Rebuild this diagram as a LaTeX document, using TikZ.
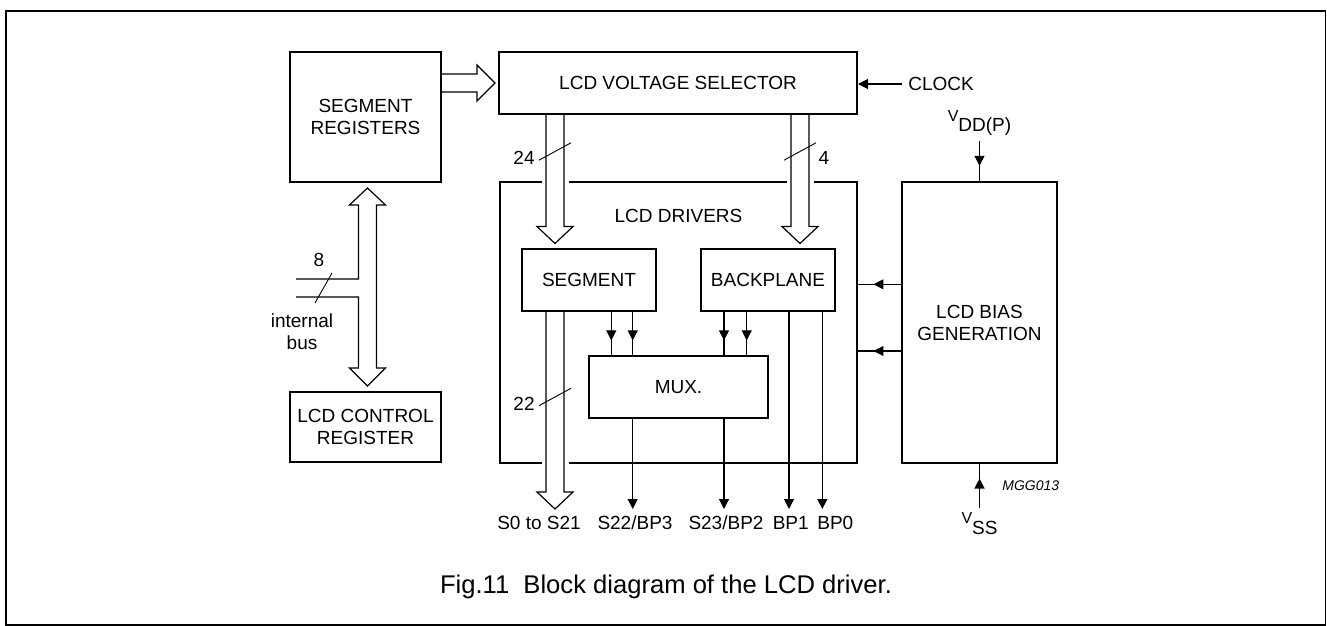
\documentclass[tikz,border=0pt]{standalone}
\usepackage{fontspec}
\setmainfont{Liberation Sans}
\usetikzlibrary{positioning,calc,arrows.meta,decorations.markings}
\newcommand{\busdown}[2]% start, tip (same x)
{\draw[bus] ($(#1)+(-9,0)$) -- ($(#2)+(-9,-17)$) -- ($(#2)+(-18,-17)$) -- (#2)
  -- ($(#2)+(18,-17)$) -- ($(#2)+(9,-17)$) -- ($(#1)+(9,0)$);
}
\newcommand{\busright}[2]% start, tip (same y)
{\draw[bus] ($(#1)+(0,-9)$) -- ($(#2)+(-18,-9)$) -- ($(#2)+(-18,-18)$) -- (#2)
  -- ($(#2)+(-18,18)$) -- ($(#2)+(-18,9)$) -- ($(#1)+(0,9)$);
}
\newcommand{\busgap}[1]% where a bus cuts a border
{\fill[white] ($(#1)+(-13.5,-3)$) rectangle ($(#1)+(13.5,3)$);
}

\begin{document}
\begin{tikzpicture}[x=0.5pt,y=-0.5pt,
  every node/.style={font=\fontsize{9.5}{11}\selectfont},
  blk/.style={draw, line width=1pt, inner sep=0pt, align=center},
  bus/.style={line width=0.6pt, line join=miter},
  slash/.style={line width=0.45pt},
  wire/.style={line width=0.55pt},
  sig/.style={wire, -{Triangle[length=5pt,width=5pt]}},
  midarrow/.style={wire, postaction={decorate}, decoration={markings,
    mark=at position #1 with {\arrow{Triangle[length=5pt,width=5pt]}}}}]
  \useasboundingbox (0,0) rectangle (1327,626);
  \draw[line width=0.85pt] (6,11) rectangle (1325.5,625);

  % blocks
  \node[blk, minimum width=75.5pt, minimum height=65pt] (segreg) at (365.5,117) {SEGMENT\\REGISTERS};
  \node[blk, minimum width=179pt, minimum height=31pt] (lcdvs) at (678,83) {LCD VOLTAGE SELECTOR};
  \node[blk, minimum width=178.5pt, minimum height=140.5pt] (drivers) at (678.5,322.5) {};
  \node (drvlbl) at ($(drivers.north)+(0,35)$) {LCD DRIVERS};
  \node[blk, minimum width=67pt, minimum height=31pt] (segment) at (589,280) {SEGMENT};
  \node[blk, minimum width=67pt, minimum height=31pt] (backplane) at (768,280) {BACKPLANE};
  \node[blk, minimum width=89.5pt, minimum height=31pt] (mux) at (678.5,387) {MUX.};
  \node[blk, minimum width=77.5pt, minimum height=140.5pt] (bias) at (979.5,322.5) {LCD BIAS\\GENERATION};
  \node[blk, minimum width=75.5pt, minimum height=35pt] (ctrlreg) at (365.5,427) {LCD CONTROL\\REGISTER};

  % wide buses
  \coordinate (hbs) at (segreg.east |- lcdvs.west);
  \coordinate (hbt) at ($(lcdvs.west)+(-3,0)$);
  \busright{hbs}{hbt}

  \coordinate (b24) at ($(segment.north west)+(34,0)$);
  \coordinate (b24s) at (lcdvs.south -| b24);
  \coordinate (b24t) at ($(b24)+(0,-4.5)$);
  \coordinate (b24g) at (drivers.north -| b24);
  \busgap{b24g}
  \busdown{b24s}{b24t}
  \draw[slash] ($(b24s)+(-16,45.2)$) -- ($(b24s)+(16,27.8)$);
  \node (n24) at ($(b24s)+(-31,43)$) {24};

  \coordinate (b4) at ($(backplane.north west)+(100,0)$);
  \coordinate (b4s) at (lcdvs.south -| b4);
  \coordinate (b4t) at ($(b4)+(0,-4.5)$);
  \coordinate (b4g) at (drivers.north -| b4);
  \busgap{b4g}
  \busdown{b4s}{b4t}
  \draw[slash] ($(b4s)+(-16,45.2)$) -- ($(b4s)+(16,27.8)$);
  \node (n4) at ($(b4s)+(24,43)$) {4};

  \coordinate (outy) at ($(mux.south)+(0,90)$);
  \coordinate (b22s) at (segment.south -| b24);
  \coordinate (b22t) at (outy -| b24);
  \coordinate (b22g) at (drivers.south -| b24);
  \busgap{b22g}
  \busdown{b22s}{b22t}
  \draw[slash] ($(b22s)+(-16,93.7)$) -- ($(b22s)+(16,76.3)$);
  \node (n22) at ($(b22s)+(-31,92)$) {22};

  % internal bus
  \coordinate (ibt) at ($(segreg.south)+(2,5)$);
  \coordinate (ibb) at ($(ctrlreg.north)+(2,-5)$);
  \coordinate (ibus) at ($(ibt)+(-71.5,100)$);
  \draw[bus] ($(ibus)+(0,9)$) -- ($(ibus)+(62.5,9)$) -- ($(ibb)+(-9,-18)$)
    -- ($(ibb)+(-18,-18)$) -- (ibb) -- ($(ibb)+(18,-18)$) -- ($(ibb)+(9,-18)$)
    -- ($(ibt)+(9,17)$) -- ($(ibt)+(18,17)$) -- (ibt) -- ($(ibt)+(-18,17)$)
    -- ($(ibt)+(-9,17)$) -- ($(ibus)+(62.5,-9)$) -- ($(ibus)+(0,-9)$);
  \draw[slash] ($(ibus)+(19,15)$) -- ($(ibus)+(36,-15)$);
  \node (n8) at ($(ibus)+(23,-28)$) {8};
  \node[align=center] (iblbl) at ($(ibus)+(6,43.5)$) {internal\\bus};

  % clock and supplies
  \node[anchor=west, inner xsep=3pt, inner ysep=0pt] (clock) at ($(lcdvs.east)+(44,1)$) {CLOCK};
  \draw[sig] (clock.west) -- (clock.west -| lcdvs.east);
  \coordinate (vddin) at ($(bias.north)+(0,-40)$);
  \node[inner sep=0pt, above=2.5pt of vddin] (vdd) {{\fontsize{8}{8}\selectfont V}\raisebox{-5.3pt}{DD(P)}};
  \draw[midarrow=0.62] (vddin) -- (bias.north);
  \coordinate (vssin) at ($(bias.south)+(0,44)$);
  \node[inner sep=0pt, below=2pt of vssin] (vss) {{\fontsize{8}{8}\selectfont V}\raisebox{-5.3pt}{SS}};
  \draw[midarrow=0.67] (vssin) -- (bias.south);
  \node[anchor=west, inner sep=0pt, font=\fontsize{7}{8}\selectfont\itshape] (code) at ($(bias.south)+(22.5,21.5)$) {MGG013};

  \coordinate (bi1) at ($(bias.west)+(0,-38.2)$);
  \coordinate (bi2) at ($(bias.west)+(0,28.5)$);
  \draw[midarrow=0.64] (bi1) -- (bi1 -| drivers.east);
  \draw[midarrow=0.64] (bi2) -- (bi2 -| drivers.east);

  % inner signals
  \coordinate (sa) at ($(mux.north west)+(23.3,0)$);
  \coordinate (sb) at ($(mux.north west)+(44.7,0)$);
  \coordinate (sc) at ($(mux.north east)+(-45,0)$);
  \coordinate (sd) at ($(mux.north east)+(-22.3,0)$);
  \coordinate (se) at ($(backplane.south west)+(89,0)$);
  \coordinate (sf) at ($(backplane.south west)+(122.3,0)$);
  \foreach \s in {sa,sb}
    \draw[midarrow=0.66] (segment.south -| \s) -- (\s);
  \foreach \s in {sc,sd}
    \draw[midarrow=0.66] (backplane.south -| \s) -- (\s);
  \draw[sig] (mux.south -| sb) -- (sb |- outy);
  \draw[sig] (mux.south -| sc) -- (sc |- outy);
  \draw[sig] (se) -- (se |- outy);
  \draw[sig] (sf) -- (sf |- outy);

  % pin names
  \node (p0) at ($(outy -| b24)+(-16,14)$) {S0 to S21};
  \node (p1) at ($(outy -| sb)+(2.3,14)$) {S22/BP3};
  \node (p2) at ($(outy -| sc)+(2,14)$) {S23/BP2};
  \node (p3) at ($(outy -| se)+(1.7,14)$) {BP1};
  \node (p4) at ($(outy -| sf)+(13,14)$) {BP0};

  \node[font=\fontsize{12.8}{14}\selectfont] (cap) at (666,587) {Fig.11\ \ Block diagram of the LCD driver.};
\end{tikzpicture}
\end{document}
